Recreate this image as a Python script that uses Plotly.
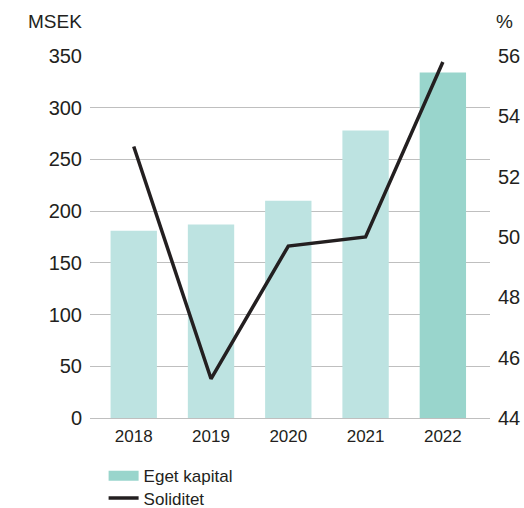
import plotly.graph_objects as go

years = ["2018", "2019", "2020", "2021", "2022"]
eget_kapital = [181, 187, 210, 278, 334]
soliditet = [53.0, 45.3, 49.7, 50.0, 55.8]
bar_colors = ["#bde3e1", "#bde3e1", "#bde3e1", "#bde3e1", "#99d5cc"]

FONT = "Liberation Sans, Arial, sans-serif"
TXT = "#231f20"

fig = go.Figure()
fig.add_trace(go.Bar(
    x=years, y=eget_kapital, name="Eget kapital",
    marker=dict(color=bar_colors, line=dict(width=0)),
    showlegend=False, yaxis="y",
))
# legend swatch for the bars
fig.add_trace(go.Scatter(
    x=[None], y=[None], mode="lines", name="Eget kapital",
    line=dict(color="#99d5cc", width=11), yaxis="y", legend="legend",
))
fig.add_trace(go.Scatter(
    x=years, y=soliditet, name="Soliditet", mode="lines",
    line=dict(color=TXT, width=3.5), yaxis="y2", legend="legend2",
))

leg_common = dict(xanchor="left", yanchor="middle", orientation="v",
                  font=dict(size=17, color=TXT), itemwidth=30,
                  bgcolor="rgba(0,0,0,0)")

fig.update_layout(
    width=524, height=508,
    margin=dict(l=90, r=34, t=56, b=90, autoexpand=False),
    paper_bgcolor="white", plot_bgcolor="white",
    font=dict(family=FONT, size=17, color=TXT),
    bargap=0.4,
    showlegend=True,
    legend=dict(x=0.034, y=-0.161, **leg_common),
    legend2=dict(x=0.034, y=-0.222, **leg_common),
    xaxis=dict(range=[-0.566, 4.61], showgrid=False, zeroline=False,
               showline=False, ticks="", tickfont=dict(size=17),
               ticklabelstandoff=6, automargin=False),
    yaxis=dict(range=[0, 350], dtick=50, showgrid=True, gridcolor="#bfbfbf",
               gridwidth=1.4, zeroline=True, zerolinecolor="#bfbfbf",
               zerolinewidth=1.4, showline=False, ticks="",
               ticklabelstandoff=7, tickfont=dict(size=20), automargin=False),
    yaxis2=dict(range=[44, 56], dtick=2, overlaying="y", side="right",
                showgrid=False, zeroline=False, showline=False, ticks="",
                ticklabelstandoff=7, tickfont=dict(size=20), automargin=False),
    annotations=[
        dict(text="MSEK", xref="paper", yref="paper", x=-0.16, y=1.094,
             xanchor="left", yanchor="middle", showarrow=False,
             font=dict(size=19, color=TXT)),
        dict(text="%", xref="paper", yref="paper", x=1.01, y=1.094,
             xanchor="left", yanchor="middle", showarrow=False,
             font=dict(size=19, color=TXT)),
    ],
)

fig.write_html(
    "out.html",
    config={"displayModeBar": False},
    post_script="document.body.style.margin='0';document.body.style.overflow='hidden';",
)
